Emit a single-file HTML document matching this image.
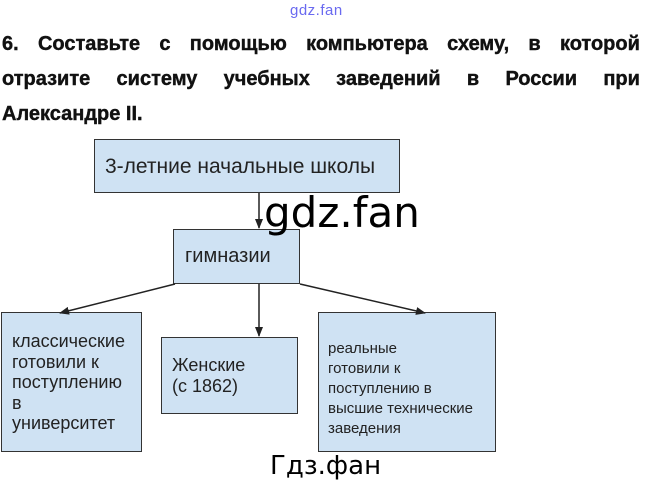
<!DOCTYPE html>
<html><head><meta charset="utf-8"><style>
body{margin:0;width:645px;height:489px;background:#fff;position:relative;overflow:hidden;font-family:"Liberation Sans",sans-serif}
.h{position:absolute;left:2px;width:638px;font-weight:bold;font-size:20px;color:#111;white-space:nowrap;-webkit-text-stroke:0.4px #111}
.b{position:absolute;background:#cfe2f3;border:1.5px solid #333;box-sizing:border-box;color:#222}
</style></head><body>
<div style="position:absolute;left:290px;top:2px;font-size:15px;color:#6a6af0;letter-spacing:0.5px">gdz.fan</div>
<div class="h" style="top:33px;display:flex;justify-content:space-between"><span>6.</span><span>Составьте</span><span>с</span><span>помощью</span><span>компьютера</span><span>схему,</span><span>в</span><span>которой</span></div>
<div class="h" style="top:68px;display:flex;justify-content:space-between"><span>отразите</span><span>систему</span><span>учебных</span><span>заведений</span><span>в</span><span>России</span><span>при</span></div>
<div class="h" style="top:103px">Александре II.</div>

<div class="b" style="left:94px;top:139px;width:306px;height:54px;font-size:21px;padding:15px 0 0 10px">3-летние начальные школы</div>
<div class="b" style="left:173px;top:229px;width:127px;height:55px;font-size:20px;padding:15px 0 0 11px">гимназии</div>
<div class="b" style="left:1px;top:312px;width:141px;height:140px;font-size:18px;line-height:20.5px;padding:18px 0 0 10px">классические<br>готовили к<br>поступлению<br>в<br>университет</div>
<div class="b" style="left:161px;top:337px;width:137px;height:77px;font-size:18px;line-height:21px;padding:17px 0 0 10px">Женские<br>(с 1862)</div>
<div class="b" style="left:318px;top:312px;width:178px;height:140px;font-size:15px;line-height:20px;padding:26px 0 0 9px">реальные<br>готовили к<br>поступлению в<br>высшие технические<br>заведения</div>

<svg width="645" height="489" style="position:absolute;left:0;top:0">
<defs><marker id="a" markerWidth="10" markerHeight="10" refX="9" refY="5" orient="auto" markerUnits="userSpaceOnUse"><path d="M0,1 L10,5 L0,9z" fill="#222"/></marker></defs>
<g stroke="#222" stroke-width="1.5" fill="none">
<line x1="259" y1="193" x2="259" y2="228" marker-end="url(#a)"/>
<line x1="175" y1="284" x2="60" y2="313" marker-end="url(#a)"/>
<line x1="259" y1="284" x2="259" y2="336" marker-end="url(#a)"/>
<line x1="300" y1="284" x2="425" y2="313" marker-end="url(#a)"/>
</g></svg>
<div style="position:absolute;left:264px;top:188px;font-family:'DejaVu Sans',sans-serif;font-size:42px;color:#000">gdz.fan</div>
<div style="position:absolute;left:270px;top:451px;font-family:'DejaVu Sans',sans-serif;font-size:26px;color:#000">Гдз.фан</div>
</body></html>
